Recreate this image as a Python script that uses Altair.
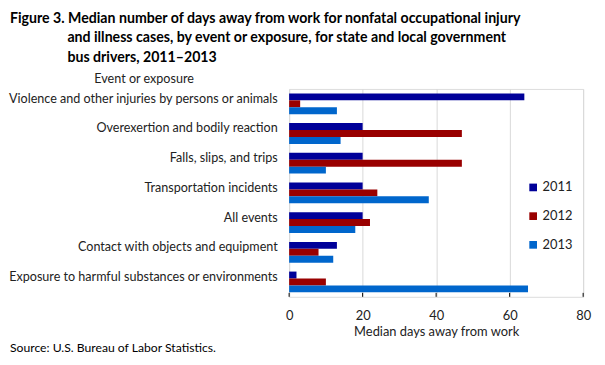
import altair as alt
import pandas as pd

categories = [
    "Violence and other injuries by persons or animals",
    "Overexertion and bodily reaction",
    "Falls, slips, and trips",
    "Transportation incidents",
    "All events",
    "Contact with objects and equipment",
    "Exposure to harmful substances or environments",
]
years = ["2011", "2012", "2013"]
v2011 = [64, 20, 20, 20, 20, 13, 2]
v2012 = [3, 47, 47, 24, 22, 8, 10]
v2013 = [13, 14, 10, 38, 18, 12, 65]
colors = ["#000099", "#990000", "#0066CC"]
x_ticks = [0, 20, 40, 60, 80]

title_lines = [
    "Figure 3. Median number of days away from work for nonfatal occupational injury",
    "and illness cases, by event or exposure, for state and local government",
    "bus drivers, 2011\u20132013",
]
source_text = "Source:  U.S. Bureau  of Labor Statistics."

rows = []
for yr, vals in zip(years, [v2011, v2012, v2013]):
    for c, v in zip(categories, vals):
        rows.append({"event": c, "year": yr, "days": v})
df = pd.DataFrame(rows)

FONT = "Lato"
W, H = 297, 210

bars = alt.Chart(df).mark_bar().encode(
    x=alt.X("days:Q",
            scale=alt.Scale(domain=[0, 80], nice=False),
            axis=alt.Axis(values=x_ticks, title="Median days away from work",
                          tickSize=0, labelPadding=13, domain=False, labelFlush=False,
                          gridColor="#d9d9d9", gridWidth=1,
                          labelFont=FONT, labelFontSize=13, labelColor="#222",
                          titleFont=FONT, titleFontSize=13, titleFontWeight="normal",
                          titleColor="#222", titlePadding=3)),
    y=alt.Y("event:N", sort=categories,
            scale=alt.Scale(paddingInner=0.3, paddingOuter=0.15),
            axis=alt.Axis(title="Event or exposure", tickSize=0, labelPadding=12,
                          domain=False, labelLimit=400, labelOffset=-5,
                          labelFont=FONT, labelFontSize=12.7, labelColor="#222",
                          titleFont=FONT, titleFontSize=12.7, titleFontWeight="normal",
                          titleColor="#222", titleAngle=0, titleAlign="center",
                          titleBaseline="alphabetic", titleX=-147, titleY=-6)),
    yOffset=alt.YOffset("year:N", sort=years),
    color=alt.Color("year:N", sort=years,
                    scale=alt.Scale(domain=years, range=colors),
                    legend=alt.Legend(title=None, orient="none", legendX=240, legendY=93,
                                      symbolType="square", symbolSize=60,
                                      symbolStrokeWidth=0, rowPadding=15,
                                      labelFont=FONT, labelFontSize=13,
                                      labelColor="#222", labelOffset=3)),
)

ticks = alt.Chart(pd.DataFrame({"t": x_ticks})).mark_rule(color="black", strokeWidth=1).encode(
    x=alt.X("t:Q", scale=alt.Scale(domain=[0, 80], nice=False)),
    y=alt.value(H - 4), y2=alt.value(H),
)

def txt(s, x, y, size, weight="normal", font=FONT):
    return alt.Chart(alt.Data(values=[{}])).mark_text(
        text=s, align="left", baseline="middle", fontSize=size,
        fontWeight=weight, font=font, color="black"
    ).encode(x=alt.value(x), y=alt.value(y))

t1 = txt(title_lines[0], -282, -71, 14.3, "bold", FONT)
t2 = txt(title_lines[1], -224, -51, 14.3, "bold", FONT)
t3 = txt(title_lines[2], -224, -31, 14.3, "bold", FONT)
src = txt(source_text, -282, 262, 12.3, "normal", FONT)

chart = alt.layer(bars, ticks, t1, t2, t3, src).properties(
    width=W, height=H,
    autosize=alt.AutoSizeParams(type="none"),
    padding={"left": 284, "top": 80, "right": 14, "bottom": 56},
).configure_view(stroke="black", strokeWidth=1.5).configure(background="white")

chart.save("out.html", embed_options={"renderer": "svg", "actions": False})
